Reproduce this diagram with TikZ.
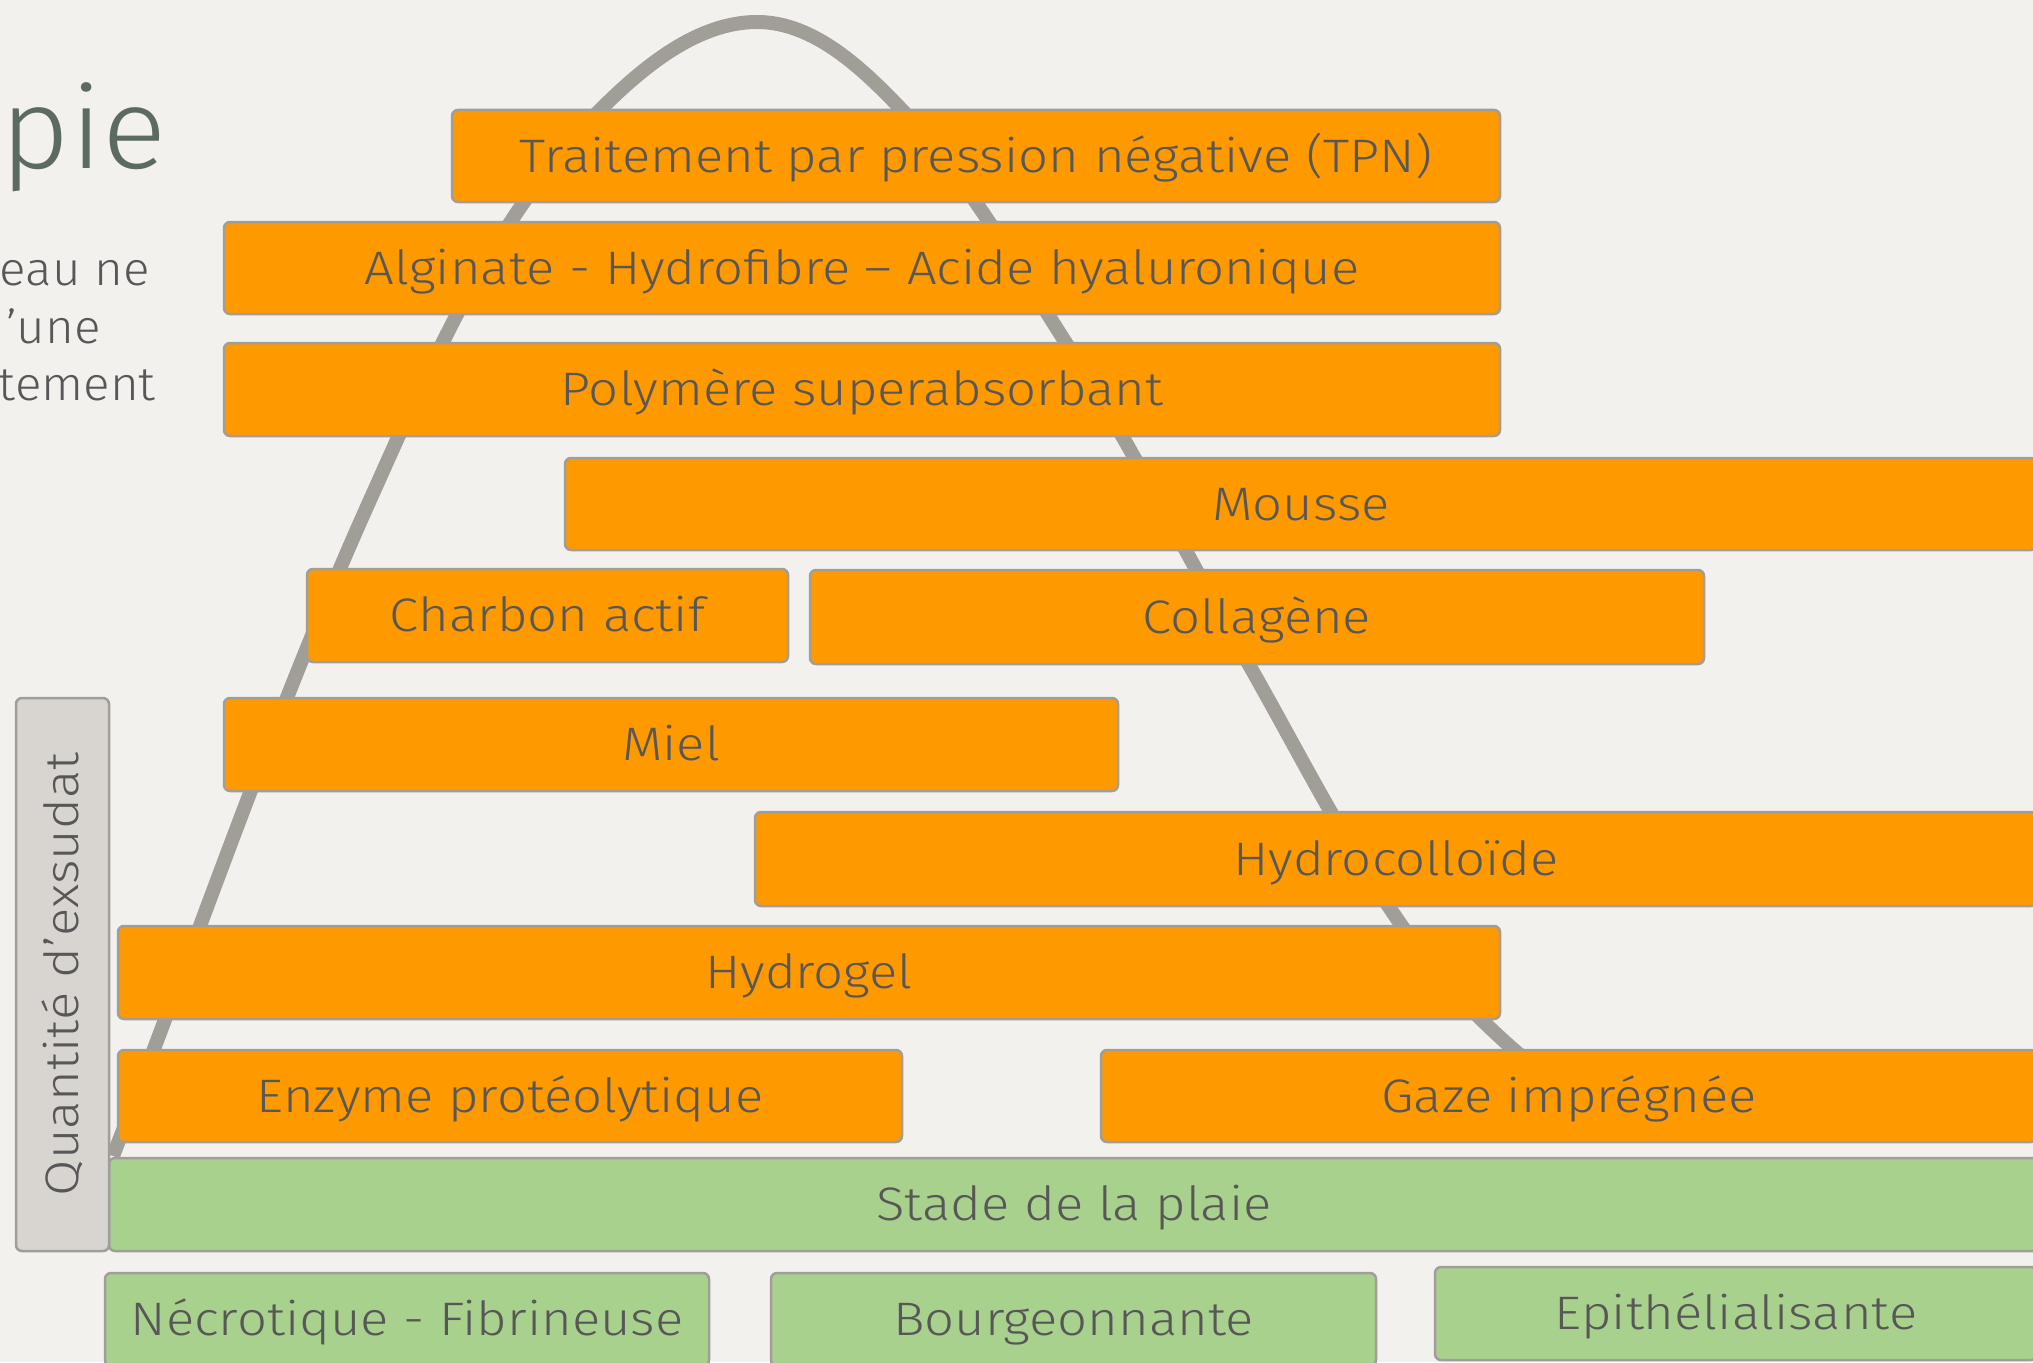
\documentclass[tikz,border=0pt]{standalone}
\usepackage{fontspec}
\setmainfont{Fira Sans Light}[FakeStretch=1.12]
\newfontfamily\sidefont{Fira Sans Light}[FakeStretch=1.05]
\definecolor{bg}{HTML}{F2F1ED}
\definecolor{orangefill}{HTML}{FF9900}
\definecolor{greenfill}{HTML}{A9D18E}
\definecolor{greyfill}{HTML}{D8D4CF}
\definecolor{edge}{HTML}{A19D98}
\definecolor{curvecol}{HTML}{A19D97}
\definecolor{txt}{HTML}{575757}
\definecolor{titlecol}{HTML}{5B6B5F}
\newcommand\boxfont{\fontsize{47}{56}\selectfont}
\begin{document}
\begin{tikzpicture}[x=1pt,y=-1pt,
  obox/.style={draw=edge, fill=orangefill, line width=2.5pt, rounded corners=6pt,
    text=txt, font=\boxfont, text height=32.4pt, text depth=0pt, inner sep=0pt},
  gbox/.style={obox, fill=greenfill},
  qbox/.style={obox, fill=greyfill},
  curve/.style={draw=curvecol, line width=14pt, line cap=butt},
  sidetext/.style={text=txt, font=\sidefont\fontsize{47}{56}\selectfont, inner sep=0pt, anchor=base east},
  titletext/.style={text=titlecol, font=\sidefont\fontsize{114}{130}\selectfont, inner sep=0pt, anchor=base east}]
\useasboundingbox (0,0) rectangle (2033,1362);
\clip (0,0) rectangle (2033,1362);
\fill[bg] (0,0) rectangle (2033,1362);

% bell curve behind the boxes
\coordinate (c0) at (113,1156);
\coordinate (c1) at (370,500);
\coordinate (c2) at (600,110);
\coordinate (c3) at (757,22);
\coordinate (c4) at (902,110);
\coordinate (c5) at (1066,343);
\coordinate (c6) at (1248,663);
\coordinate (c7) at (1402,926);
\coordinate (c8) at (1513,1049);
\coordinate (c9) at (1600,1105);
\draw[curve] (c0)
  .. controls (198.3,937.2) and (273.6,714.3) .. (c1)
  .. controls (431.9,362.3) and (493.2,216.8) .. (c2)
  .. controls (642.4,67.6) and (697,22) .. (c3)
  .. controls (814,22) and (862.7,68.7) .. (c4)
  .. controls (967.5,178.9) and (1014.8,263) .. (c5)
  .. controls (1132.3,446.6) and (1187.1,556.1) .. (c6)
  .. controls (1298.5,751.6) and (1343.6,842.5) .. (c7)
  .. controls (1433.5,971) and (1471.6,1012.7) .. (c8)
  .. controls (1535.6,1068.8) and (1575,1090) .. (c9);

% left partial texts
\node[titletext] (title) at (167,168) {pie};
\node[sidetext] (l1) at (150,285) {eau ne};
\node[sidetext] (l2) at (101,343) {’une};
\node[sidetext] (l3) at (156,400) {tement};

% dressing boxes
\node[obox, minimum width=1048pt, minimum height=92pt] (tpn) at (976,156) {Traitement par pression négative (TPN)};
\node[obox, minimum width=1276pt, minimum height=92pt] (alg) at (862,268) {Alginate - Hydrofibre – Acide hyaluronique};
\node[obox, minimum width=1276pt, minimum height=93pt] (poly) at (862,389.5) {Polymère superabsorbant};
\node[obox, minimum width=1472pt, minimum height=92pt] (mousse) at (1301,504) {Mousse};
\node[obox, minimum width=481pt, minimum height=93pt] (charbon) at (547.5,615.5) {Charbon actif};
\node[obox, minimum width=894pt, minimum height=94pt] (coll) at (1257,617) {Collagène};
\node[obox, minimum width=894pt, minimum height=93pt] (miel) at (671,744.5) {Miel};
\node[obox, minimum width=1282pt, minimum height=94pt] (hcoll) at (1396,859) {Hydrocolloïde};
\node[obox, minimum width=1382pt, minimum height=93pt] (hgel) at (809,972.5) {Hydrogel};
\node[obox, minimum width=784pt, minimum height=92pt] (enz) at (510,1096) {Enzyme protéolytique};
\node[obox, minimum width=936pt, minimum height=92pt] (gaze) at (1569,1096) {Gaze imprégnée};

% axes
\node[gbox, minimum width=1930pt, minimum height=93pt] (stade) at (1074,1204.5) {Stade de la plaie};
\node[qbox, rotate=90, minimum width=553pt, minimum height=93pt] (quant) at (62.5,974.5) {Quantité d’exsudat};

% wound stages
\node[gbox, minimum width=604pt, minimum height=93pt] (necro) at (407,1319.5) {Nécrotique - Fibrineuse};
\node[gbox, minimum width=605pt, minimum height=93pt] (bourg) at (1073.5,1319.5) {Bourgeonnante};
\node[gbox, minimum width=602pt, minimum height=93pt] (epith) at (1736,1313.5) {Epithélialisante};
\end{tikzpicture}
\end{document}
